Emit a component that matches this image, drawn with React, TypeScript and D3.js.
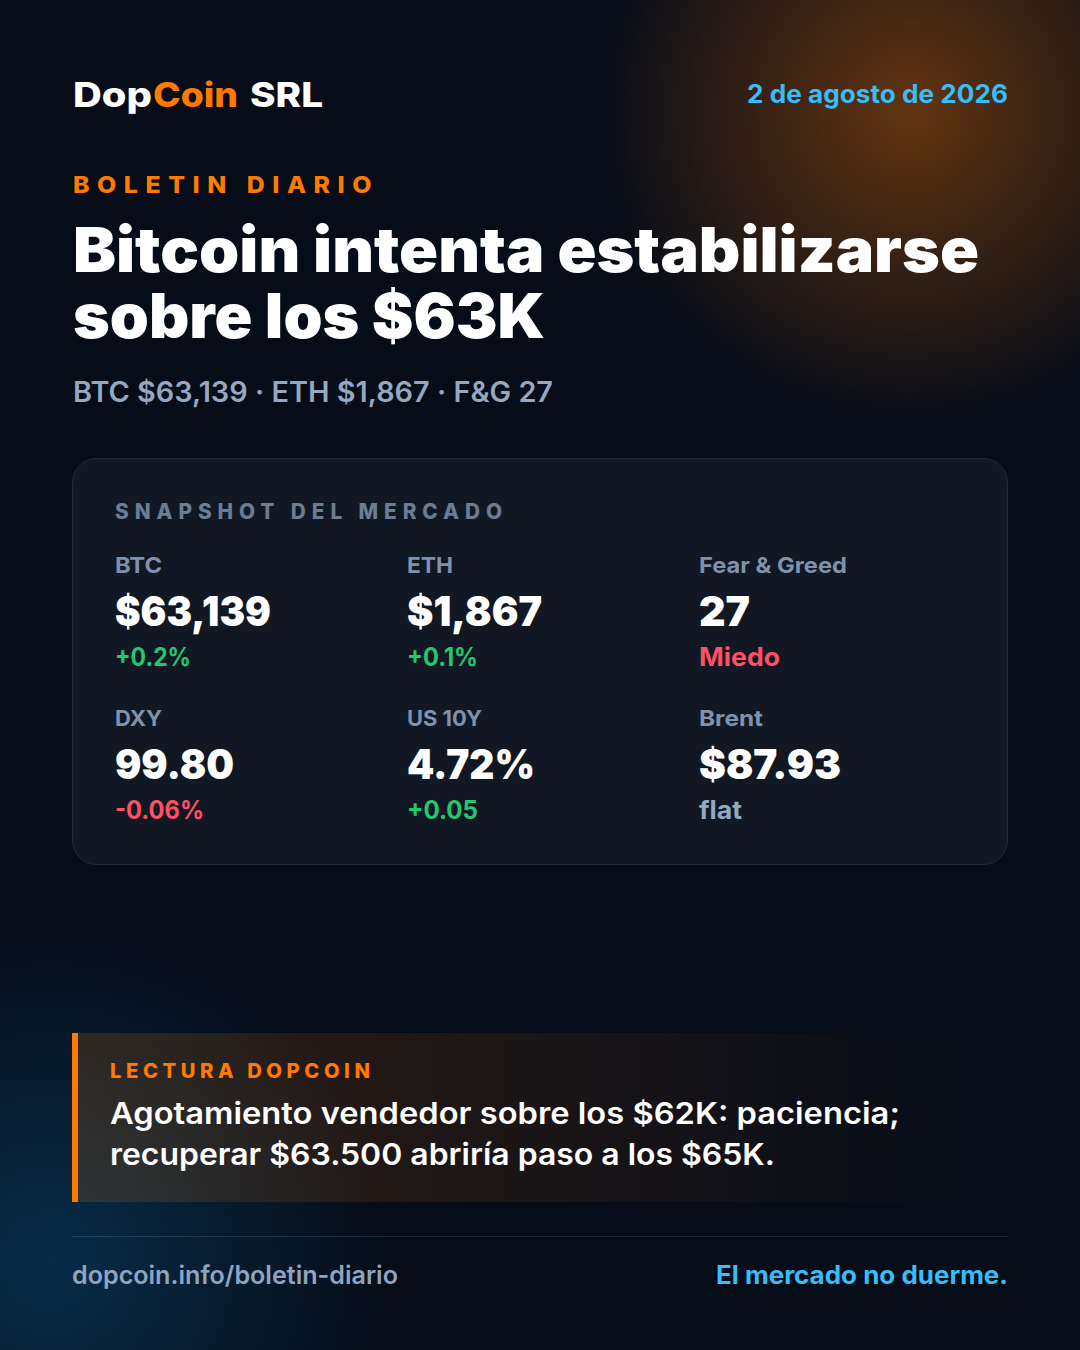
import React from 'react';
import * as d3 from 'd3';

const FONT = 'Inter, "Noto Sans", sans-serif';

// market snapshot, row by row
const metricLabels = ['BTC', 'ETH', 'Fear & Greed', 'DXY', 'US 10Y', 'Brent'];
const metricValues = ['$63,139', '$1,867', '27', '99.80', '4.72%', '$87.93'];
const metricDeltas = ['+0.2%', '+0.1%', 'Miedo', '-0.06%', '+0.05', 'flat'];
const metricTones = ['up', 'up', 'down', 'down', 'up', 'flat'];

const titleLines = ['Bitcoin intenta estabilizarse', 'sobre los $63K'];
const noteLines = [
  'Agotamiento vendedor sobre los $62K: paciencia;',
  'recuperar $63.500 abriría paso a los $65K.',
];

// rendered widths, the fallback font gets fitted to these
const labelWidths = [47, 46, 148, 47, 75, 64];
const valueWidths = [156, 135, 51, 119, 128, 142];
const deltaWidths = [76, 71, 81, 89, 71, 43];
const titleWidths = [906, 472];
const noteWidths = [790, 665];

const toneColor: Record<string, string> = {
  up: '#22c870',
  down: '#ff5064',
  flat: '#94a8c2',
};

const col = d3.scalePoint<number>().domain([0, 1, 2]).range([115, 699]);
const row = d3.scalePoint<number>().domain([0, 1]).range([0, 153]);

function Txt({
  x, y, w, size, weight, fill, spacing = 0, children,
}: {
  x: number; y: number; w: number; size: number; weight: number; fill: string;
  spacing?: number; children: React.ReactNode;
}) {
  return (
    <text
      x={x}
      y={y}
      fontSize={size}
      fontWeight={weight}
      fill={fill}
      letterSpacing={spacing || undefined}
      textLength={w + spacing}
      lengthAdjust="spacingAndGlyphs"
      fontFamily={FONT}
    >
      {children}
    </text>
  );
}

export default function App() {
  return (
    <svg
      width={1080}
      height={1350}
      viewBox="0 0 1080 1350"
      style={{ position: 'absolute', left: 0, top: 0, display: 'block' }}
    >
      <defs>
        <radialGradient id="glowOrange" gradientUnits="userSpaceOnUse" cx={910} cy={110} r={320}>
          <stop offset="0" stopColor="#ff7a00" stopOpacity={0.37} />
          <stop offset="1" stopColor="#ff7a00" stopOpacity={0} />
        </radialGradient>
        <radialGradient id="glowBlue" gradientUnits="userSpaceOnUse" cx={50} cy={1260} r={340}>
          <stop offset="0" stopColor="#0a5a8c" stopOpacity={0.42} />
          <stop offset="1" stopColor="#0a5a8c" stopOpacity={0} />
        </radialGradient>
        <linearGradient id="noteFill" x1="0" x2="1" y1="0" y2="0">
          <stop offset="0" stopColor="#ff7a00" stopOpacity={0.16} />
          <stop offset="1" stopColor="#ff7a00" stopOpacity={0} />
        </linearGradient>
      </defs>

      <rect width={1080} height={1350} fill="#060c18" />
      <rect width={1080} height={1350} fill="url(#glowOrange)" />
      <rect width={1080} height={1350} fill="url(#glowBlue)" />

      {/* header */}
      <Txt x={73} y={107} w={79} size={34} weight={800} fill="#ffffff">Dop</Txt>
      <Txt x={153} y={107} w={85} size={34} weight={800} fill="#ff7a00">Coin</Txt>
      <Txt x={250} y={107} w={73} size={34} weight={800} fill="#ffffff">SRL</Txt>
      <Txt x={747} y={103} w={261} size={25} weight={700} fill="#38bdf8">2 de agosto de 2026</Txt>

      <Txt x={73} y={193} w={299} size={23} weight={800} fill="#ff7a00" spacing={7}>BOLETIN DIARIO</Txt>
      {titleLines.map((line, i) => (
        <Txt key={line} x={73} y={272 + i * 66} w={titleWidths[i]} size={62} weight={900} fill="#ffffff">
          {line}
        </Txt>
      ))}
      <Txt x={73} y={402} w={480} size={28} weight={600} fill="#94a8c2">
        BTC $63,139 · ETH $1,867 · F&amp;G 27
      </Txt>

      {/* snapshot card */}
      <rect x={72.5} y={458.5} width={935} height={406} rx={24} fill="#111824" stroke="#232a37" />
      <Txt x={115} y={519} w={387} size={21} weight={800} fill="#6b7c95" spacing={6}>SNAPSHOT DEL MERCADO</Txt>
      {metricLabels.map((label, i) => {
        const x = col(i % 3)!;
        const dy = row(Math.floor(i / 3))!;
        return (
          <g key={label}>
            <Txt x={x} y={573 + dy} w={labelWidths[i]} size={22} weight={700} fill="#7f92ad">{label}</Txt>
            <Txt x={x} y={626 + dy} w={valueWidths[i]} size={41} weight={900} fill="#ffffff">{metricValues[i]}</Txt>
            <Txt x={x} y={665.5 + dy} w={deltaWidths[i]} size={25} weight={700} fill={toneColor[metricTones[i]]}>{metricDeltas[i]}</Txt>
          </g>
        );
      })}

      {/* dopcoin note */}
      <rect x={72} y={1033} width={936} height={169} fill="url(#noteFill)" />
      <rect x={72} y={1033} width={6} height={169} fill="#ff7a00" />
      <Txt x={110} y={1078} w={260} size={20} weight={800} fill="#ff7a00" spacing={4.5}>LECTURA DOPCOIN</Txt>
      {noteLines.map((line, i) => (
        <Txt key={line} x={110} y={1124 + i * 41} w={noteWidths[i]} size={30} weight={600} fill="#ffffff">
          {line}
        </Txt>
      ))}

      {/* footer */}
      <line x1={72} x2={1008} y1={1236.5} y2={1236.5} stroke="#ffffff" strokeOpacity={0.1} />
      <Txt x={72} y={1284} w={326} size={25} weight={600} fill="#8ea5c2">dopcoin.info/boletin-diario</Txt>
      <Txt x={716} y={1284} w={292} size={25} weight={700} fill="#38bdf8">El mercado no duerme.</Txt>
    </svg>
  );
}
